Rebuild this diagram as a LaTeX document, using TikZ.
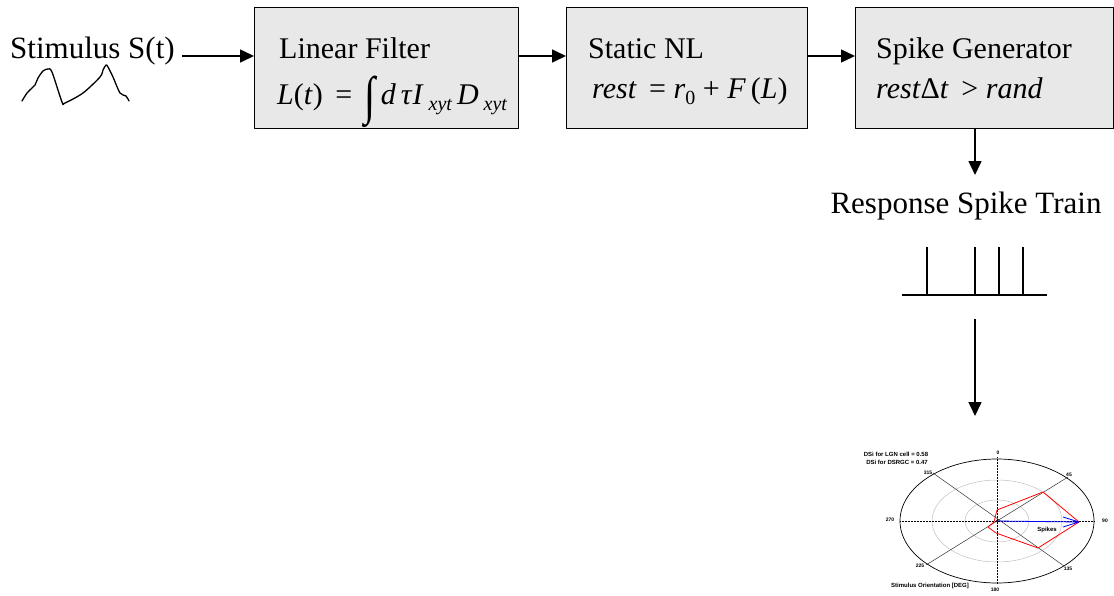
\documentclass[tikz,border=0pt]{standalone}
\usepackage{fontspec}
\setmainfont{Liberation Serif}
\setsansfont{Liberation Sans}
\usepackage{graphicx}
\usetikzlibrary{arrows.meta}
\newcommand{\lowix}[1]{\raisebox{-0.45ex}{\fontsize{20}{20}\selectfont\itshape #1}}
\newcommand{\lowup}[1]{\raisebox{-0.45ex}{\fontsize{20}{20}\selectfont #1}}
\newcommand{\intsign}{\raisebox{-0.32em}{\scalebox{1.35}[1.75]{∫}}}

\begin{document}
\begin{tikzpicture}[x=1pt, y=-1pt, line join=round, >={Triangle[length=14pt,width=13pt]},
	block/.style={draw, line width=1.4pt, fill=black!9, anchor=north west, inner sep=0pt, minimum height=121pt},
	big/.style={font=\fontsize{31}{36}\selectfont, inner sep=0pt},
	lbl/.style={font=\fontsize{30}{36}\selectfont, anchor=base west, inner sep=0pt},
	conn/.style={->, line width=1.5pt},
	plotlbl/.style={font=\sffamily\bfseries\fontsize{6}{7}\selectfont, inner sep=0pt},
	anglbl/.style={font=\sffamily\bfseries\fontsize{5}{6}\selectfont, inner sep=0pt}]
	\useasboundingbox (0,0) rectangle (1114,595);
	% blocks
	\node[block, minimum width=264pt] (lf) at (254,7) {};
	\node[block, minimum width=241pt] (nl) at (566,7) {};
	\node[block, minimum width=258pt] (sg) at (855,7) {};
	\node[lbl] (lfT) at (279,58) {Linear Filter};
	\node[lbl] (lfE) at (277,104) {\textit{L}(\textit{t})\, =\ \,\intsign\,\textit{d}\,\textit{τ}\textit{I}\,\lowix{xyt}\,\textit{D}\,\lowix{xyt}};
	\node[lbl] (nlE) at (592,98) {\textit{rest}\, =\ \textit{r}\lowup{0}\ +\ \textit{F}\,(\textit{L})};
	\node[lbl] (nlT) at (588,58) {Static NL};
	\node[lbl] (sgT) at (876,58) {Spike Generator};
	\node[lbl] (sgE) at (876,98) {\textit{rest}Δ\textit{t}\, >\ \textit{rand}};
	\node[big, anchor=base west, inner xsep=1pt] (stim) at (9,58) {Stimulus S(t)};
	\node[big, anchor=base] (resp) at (966,213) {Response Spike Train};
	% connectors
	\coordinate (lfin) at ([yshift=-49pt]lf.north west);
	\coordinate (respin) at (975,175);
	\coordinate (trainout) at (975,319);
	\coordinate (plotin) at (975,416);
	\draw[conn] ([xshift=6pt]lfin -| stim.east) -- (lfin);
	\draw[conn] ([yshift=-49pt]lf.north east) -- ([yshift=-49pt]nl.north west);
	\draw[conn] ([yshift=-49pt]nl.north east) -- ([yshift=-49pt]sg.north west);
	\draw[conn] (respin |- sg.south) -- (respin);
	\draw[conn] (trainout) -- (plotin);
	% stimulus trace and spike train
	\draw[line width=1.3pt, line cap=round] plot[smooth, tension=0.5] coordinates {(22,101) (27,93) (32,88) (35,85) (38,78) (43,71) (48,69) (52,72) (62,102) (65,103) (83,93) (100,77) (103,70) (106,65) (108,67) (113,77) (120,93) (126,96) (129,101)};
	\draw[line width=1.2pt] (902,295) -- (1047,295);
	\foreach \x in {927,975,999,1023} \draw[line width=1.2pt] (\x,295) -- (\x,247);
	% polar plot
	\begin{scope}[shift={(997,521)}]
		\draw[black!25, line width=0.5pt] (0,0) ellipse (65pt and 41pt) (0,0) ellipse (32pt and 21pt);
		\draw[densely dotted, line width=0.5pt] (0,-64) -- (0,63) (-97,0) -- (97,0);
		\draw[black!80, line width=0.5pt] (-64,-48) -- (67,45) (71,-44) -- (-71,44);
		\draw[line width=0.7pt] (0,0) ellipse (97pt and 62pt);
		\draw[red, line width=0.8pt] (0,-11) -- (46,-29) -- (82,1) -- (41,27) -- (-1,12) -- (-9,6) -- (-3,1) -- (-2,-3) -- cycle;
		\draw[blue, line width=0.8pt] (0,0) -- (82,1) -- (66,-4) (82,1) -- (66,6);
		\fill (0,0) circle (1.2pt);
		\node[anglbl] (a0) at (1,-68) {0};
		\node[anglbl] (a45) at (72,-46) {45};
		\node[anglbl] (a90) at (108,0) {90};
		\node[anglbl] (a135) at (71,48) {135};
		\node[anglbl] (a180) at (-2,69) {180};
		\node[anglbl] (a225) at (-77,45) {225};
		\node[anglbl] (a270) at (-107,-1) {270};
		\node[anglbl] (a315) at (-69,-48) {315};
		\node[plotlbl] (dsi1) at (-101,-67) {DSi for LGN cell = 0.58};
		\node[plotlbl] (dsi2) at (-100,-59) {DSi for DSRGC = 0.47};
		\node[plotlbl] (xlab) at (-67,65) {Stimulus Orientation [DEG]};
		\node[plotlbl] (spk) at (50,9) {Spikes};
	\end{scope}
\end{tikzpicture}
\end{document}
